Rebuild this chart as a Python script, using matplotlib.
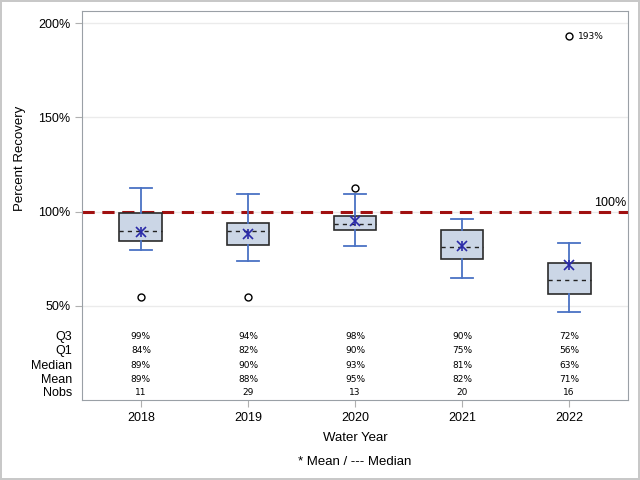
import numpy as np
import matplotlib
matplotlib.use('Agg')
import matplotlib.pyplot as plt

plt.rcParams['font.family'] = ['Liberation Sans', 'DejaVu Sans']

# data
years = ['2018', '2019', '2020', '2021', '2022']
whis_hi = [112.4, 109.5, 109.5, 96.0, 83.2]
q3 = [99.4, 93.8, 97.9, 90.5, 72.6]
median = [89.6, 89.8, 93.6, 81.4, 63.8]
q1 = [84.6, 82.1, 90.0, 75.0, 56.4]
whis_lo = [79.7, 73.7, 82.0, 64.6, 46.7]
mean = [89.4, 88.0, 95.2, 81.8, 71.7]
outliers = [[54.8], [54.5], [112.5], [], [193.0]]
nobs = [11, 29, 13, 20, 16]

q3_lbl = ['99%', '94%', '98%', '90%', '72%']
q1_lbl = ['84%', '82%', '90%', '75%', '56%']
med_lbl = ['89%', '90%', '93%', '81%', '63%']
mean_lbl = ['89%', '88%', '95%', '82%', '71%']

fig = plt.figure(figsize=(6.4, 4.8), dpi=100, edgecolor='#c8c8c8', linewidth=1.5)
ax = fig.add_axes([82/640, 80/480, 546/640, 389/480])

pos = np.arange(len(years))
stats = []
for i in range(len(years)):
    stats.append(dict(med=median[i], q1=q1[i], q3=q3[i], whislo=whis_lo[i],
                      whishi=whis_hi[i], fliers=outliers[i], mean=mean[i]))

ax.bxp(stats, positions=pos, widths=0.4, capwidths=0.2, patch_artist=True,
       showmeans=False,
       boxprops=dict(facecolor='#cbd6e6', edgecolor='#2b2b2b', linewidth=1.2),
       whiskerprops=dict(color='#4a72c4', linewidth=1.3),
       capprops=dict(color='#4a72c4', linewidth=1.3),
       medianprops=dict(color='#222222', linestyle=(0, (3, 3)), linewidth=1.0),
       flierprops=dict(marker='o', markerfacecolor='none', markeredgecolor='black',
                       markersize=5, markeredgewidth=1.0),
       zorder=3)

# mean as asterisk
ax.plot(pos, mean, linestyle='none', marker='x', color='#2a2aa8', markersize=6.5, mew=1.2, zorder=4)
ax.plot(pos, mean, linestyle='none', marker='|', color='#2a2aa8', markersize=6.5, mew=1.2, zorder=4)

# reference line
ax.axhline(100, color='#a01010', linestyle=(0, (4, 2.5)), linewidth=2.2, zorder=2)
ax.text(4.53, 101.5, '100%', ha='right', va='bottom', fontsize=9)

# outlier label
ax.text(4.08, 193, '193%', ha='left', va='center', fontsize=6.5, family='DejaVu Sans')

ax.set_xlim(-0.55, 4.55)
ax.set_ylim(0, 206.5)
ax.set_yticks([50, 100, 150, 200])
ax.set_yticklabels(['50%', '100%', '150%', '200%'])
ax.set_xticks(pos)
ax.set_xticklabels(years)
ax.yaxis.grid(True, color='#ebebeb', linewidth=1.0, zorder=0)
ax.set_axisbelow(True)
ax.tick_params(axis='both', colors='#b0b0b0', labelcolor='black', labelsize=9, length=5)
for s in ax.spines.values():
    s.set_color('#9aa0a6')

ax.set_ylabel('Percent Recovery', fontsize=9.5)
ax.yaxis.set_label_coords(-0.1026, 0.62)
ax.set_xlabel('Water Year', fontsize=9.5, labelpad=6)

# stats table inside plot
rows = [('Q3', q3_lbl, 33.6), ('Q1', q1_lbl, 26.1), ('Median', med_lbl, 18.2),
        ('Mean', mean_lbl, 10.8), ('Nobs', [str(n) for n in nobs], 3.9)]
tr = ax.get_yaxis_transform()
for name, vals, yv in rows:
    ax.text(-0.018, yv, name, transform=tr, ha='right', va='center', fontsize=9)
    for i, v in enumerate(vals):
        ax.text(pos[i], yv, v, ha='center', va='center', fontsize=6.5, family='DejaVu Sans')

fig.text(355/640, 1 - 462/480, '* Mean / --- Median', ha='center', va='center', fontsize=9.5)

fig.savefig('out.png', dpi=100, edgecolor=fig.get_edgecolor())
